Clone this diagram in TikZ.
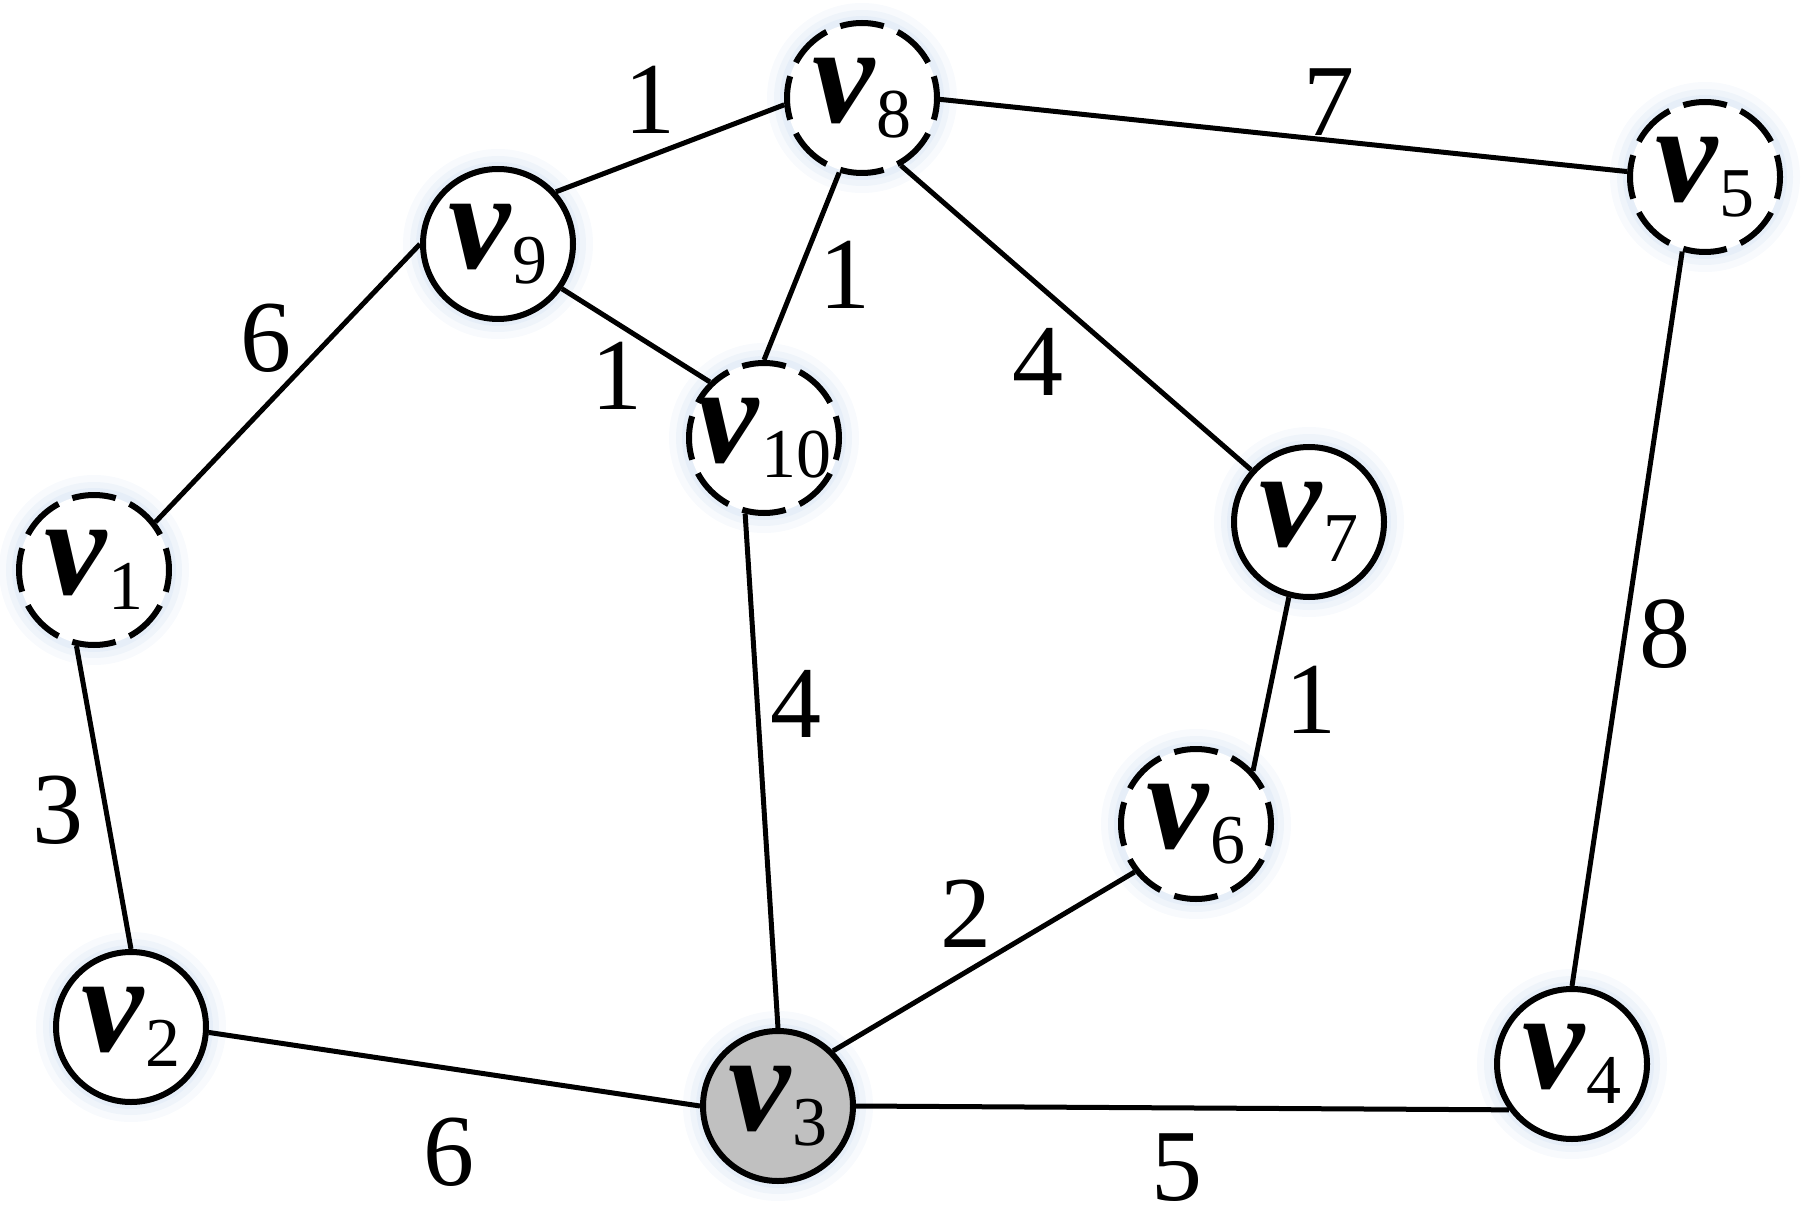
\documentclass[tikz,border=0pt]{standalone}
\usepackage{fontspec}
\setmainfont{Liberation Serif}
\newcommand{\vlab}[1]{{\fontsize{140}{140}\selectfont\bfseries\itshape v}\kern2pt\raisebox{-15pt}{\fontsize{70}{70}\selectfont #1}}
\definecolor{glowc}{RGB}{218,230,244}
\definecolor{silverc}{RGB}{192,192,192}
\tikzset{
  vtx/.style={circle, draw=black, line width=6pt, minimum size=150pt, inner sep=0pt, fill=white},
  dvtx/.style={vtx, dash pattern=on 44pt off 14.9pt, dash phase=22pt},
  gvtx/.style={vtx, fill=silverc},
  lab/.style={inner sep=0pt, outer sep=0pt},
  edge/.style={line width=5pt, draw=black},
  wt/.style={font=\fontsize{102}{102}\selectfont, inner sep=0pt},
}
\begin{document}
\begin{tikzpicture}[x=1pt,y=1pt]
\useasboundingbox (0,0) rectangle (1815,-1222);
% node centres and soft halos
\foreach \n/\x/\y in {1/94/570, 2/131/1027, 3/778/1106, 4/1572/1064, 5/1705/177,
                      6/1196/824, 7/1309/522, 8/862/98, 9/498/244, 10/764/438} {
  \coordinate (c\n) at (\x,-\y);
  \fill[glowc, opacity=0.2] (c\n) circle (95);
  \fill[glowc, opacity=0.3] (c\n) circle (88);
  \fill[glowc, opacity=0.4] (c\n) circle (82);
}
% vertices
\node[dvtx, label={[lab]center:\vlab{1}}]  (v1)  at (c1)  {};
\node[vtx,  label={[lab]center:\vlab{2}}]  (v2)  at (c2)  {};
\node[gvtx, label={[lab]center:\vlab{3}}]  (v3)  at (c3)  {};
\node[vtx,  label={[lab]center:\vlab{4}}]  (v4)  at (c4)  {};
\node[dvtx, label={[lab]center:\vlab{5}}]  (v5)  at (c5)  {};
\node[dvtx, label={[lab]center:\vlab{6}}]  (v6)  at (c6)  {};
\node[vtx,  label={[lab]center:\vlab{7}}]  (v7)  at (c7)  {};
\node[dvtx, label={[lab]center:\vlab{8}}]  (v8)  at (c8)  {};
\node[vtx,  label={[lab]center:\vlab{9}}]  (v9)  at (c9)  {};
\node[dvtx, label={[lab]center:\vlab{10}}] (v10) at (c10) {};
% edges
\draw[edge] (v9.42)   -- (v8.185);
\draw[edge] (v9.180)  -- (v1.38);
\draw[edge] (v9.-35)  -- (v10.134);
\draw[edge] (v8.-107) -- (v10.90);
\draw[edge] (v8.-1)   -- (v5.176);
\draw[edge] (v8.-60)  -- (v7.138);
\draw[edge] (v5.-107) -- (v4.90);
\draw[edge] (v1.-103) -- (v2.90);
\draw[edge] (v2.-4)   -- (v3.180);
\draw[edge] (v10.-104) -- (v3.90);
\draw[edge] (v3.45)   -- (v6.-142);
\draw[edge] (v6.43)   -- (v7.-105);
\draw[edge] (v3.0)    -- (v4.-144);
% weights
\node[wt] (w98)  at (650,-100)  {1};
\node[wt] (w810) at (845,-275)  {1};
\node[wt] (w910) at (617,-376)  {1};
\node[wt] (w19)  at (266,-338)  {6};
\node[wt] (w87)  at (1038,-362) {4};
\node[wt] (w85)  at (1329,-102) {7};
\node[wt] (w54)  at (1665,-634) {8};
\node[wt] (w103) at (796,-704)  {4};
\node[wt] (w76)  at (1311,-700) {1};
\node[wt] (w12)  at (58,-810)   {3};
\node[wt] (w36)  at (966,-914)  {2};
\node[wt] (w23)  at (449,-1152) {6};
\node[wt] (w34)  at (1177,-1168) {5};
\end{tikzpicture}
\end{document}
